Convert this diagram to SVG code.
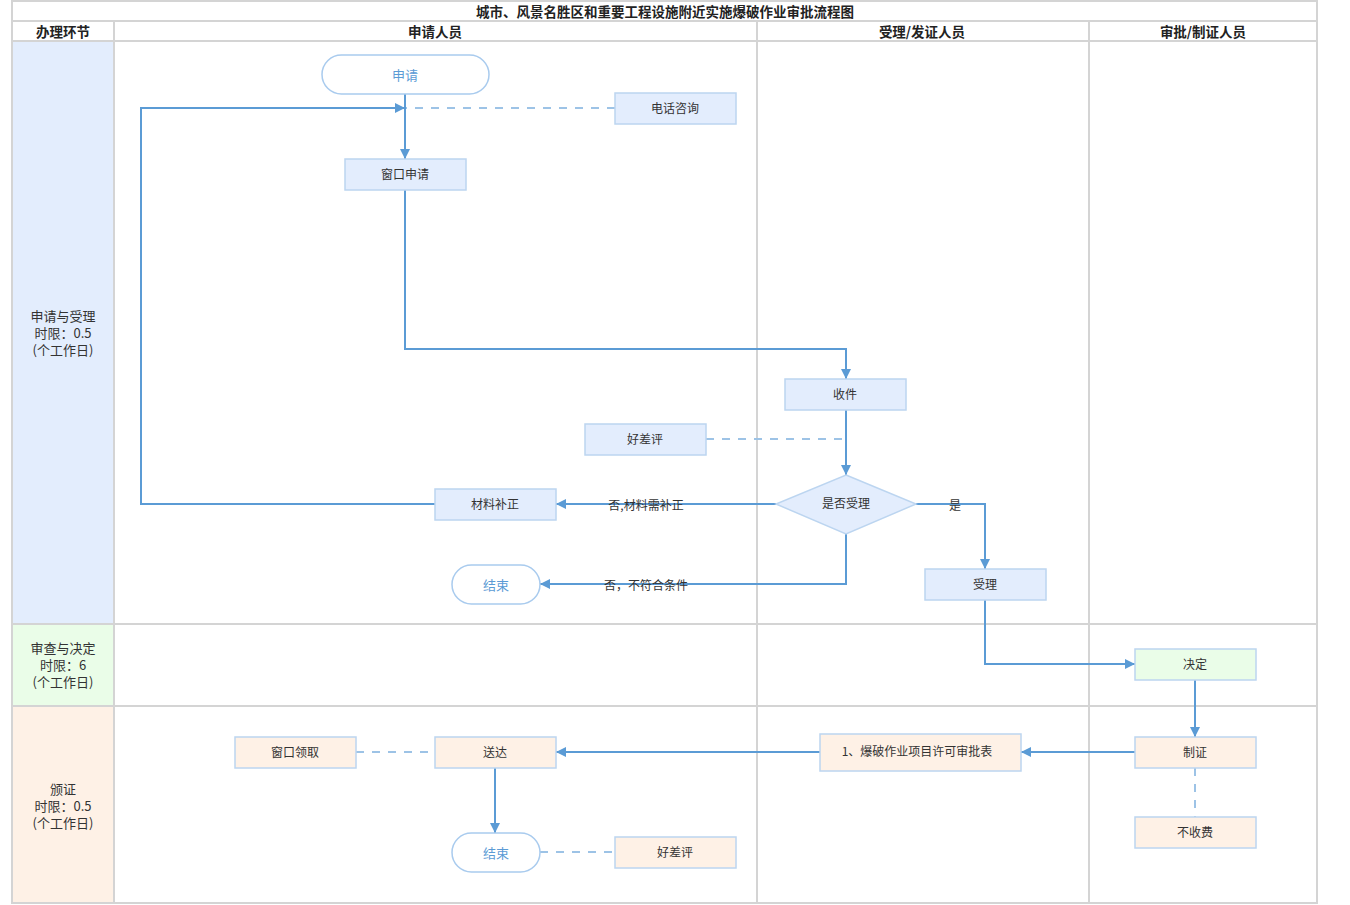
<svg xmlns="http://www.w3.org/2000/svg" width="1350" height="905" viewBox="0 0 1350 905">
<defs>
<marker id="arr" viewBox="0 0 10 10" refX="10" refY="5" markerWidth="10" markerHeight="10" markerUnits="userSpaceOnUse" orient="auto"><path d="M0,0 L10,5 L0,10 z" fill="#5b9bd5"/></marker>
<style>
text{font-family:"Noto Sans CJK SC","Noto Sans",sans-serif;font-size:12px;fill:#333;text-anchor:middle;dominant-baseline:central}
.hd{font-weight:bold;fill:#222;font-size:13.5px}
.lb{font-size:13px}
.grid{stroke:#d4d4d4;stroke-width:2;fill:none}
.blue{fill:#e3edfd;stroke:#bcd5f0;stroke-width:1.5}
.green{fill:#eafde8;stroke:#bcd5f0;stroke-width:1.5}
.peach{fill:#fef1e6;stroke:#bcd5f0;stroke-width:1.5}
.term{fill:#fff;stroke:#a9cbee;stroke-width:1.5}
.tt{fill:#5b9bd5;font-size:13px}
.ln{stroke:#5b9bd5;stroke-width:2;fill:none}
.ds{stroke:#9dc3e6;stroke-width:2;fill:none;stroke-dasharray:8,8}
</style>
</defs>
<rect width="1350" height="905" fill="#fff"/>
<g id="grid">
<rect x="12" y="42" width="102" height="582" fill="#e3edfd"/>
<rect x="12" y="624" width="102" height="82" fill="#eafde8"/>
<rect x="12" y="706" width="102" height="198" fill="#fef1e6"/>
<rect class="grid" x="12" y="1" width="1305" height="902"/>
<line class="grid" x1="12" y1="21" x2="1317" y2="21"/>
<line class="grid" x1="12" y1="41" x2="1317" y2="41"/>
<line class="grid" x1="12" y1="624" x2="1317" y2="624"/>
<line class="grid" x1="12" y1="706" x2="1317" y2="706"/>
<line class="grid" x1="114" y1="21" x2="114" y2="903"/>
<line class="grid" x1="757" y1="21" x2="757" y2="903"/>
<line class="grid" x1="1089" y1="21" x2="1089" y2="903"/>
<text class="hd" x="665" y="11">城市、风景名胜区和重要工程设施附近实施爆破作业审批流程图</text>
<text class="hd" x="63" y="30.5">办理环节</text>
<text class="hd" x="435" y="30.5">申请人员</text>
<text class="hd" x="922" y="30.5">受理/发证人员</text>
<text class="hd" x="1203" y="30.5">审批/制证人员</text>
<text class="lb" x="63" y="315">申请与受理</text>
<text class="lb" x="63" y="332">时限：0.5</text>
<text class="lb" x="63" y="349">(个工作日)</text>
<text class="lb" x="63" y="647">审查与决定</text>
<text class="lb" x="63" y="664">时限：6</text>
<text class="lb" x="63" y="681">(个工作日)</text>
<text class="lb" x="63" y="788">颁证</text>
<text class="lb" x="63" y="805">时限：0.5</text>
<text class="lb" x="63" y="822">(个工作日)</text>
</g>
<g id="connectors">
<line class="ds" x1="615" y1="108" x2="405" y2="108"/>
<line class="ds" x1="706" y1="439" x2="846" y2="439"/>
<line class="ds" x1="356" y1="752" x2="435" y2="752"/>
<line class="ds" x1="540" y1="852" x2="615" y2="852"/>
<line class="ds" x1="1195" y1="768" x2="1195" y2="817"/>
<path class="ln" d="M405,94 V159" marker-end="url(#arr)"/>
<path class="ln" d="M435,504 H141 V108 H405" marker-end="url(#arr)"/>
<path class="ln" d="M405,190 V349 H846 V379" marker-end="url(#arr)"/>
<path class="ln" d="M846,410 V475" marker-end="url(#arr)"/>
<path class="ln" d="M776,504 H556" marker-end="url(#arr)"/>
<path class="ln" d="M846,534 V584 H540" marker-end="url(#arr)"/>
<path class="ln" d="M916,504 H985 V569" marker-end="url(#arr)"/>
<path class="ln" d="M985,600 V664 H1135" marker-end="url(#arr)"/>
<path class="ln" d="M1195,680 V737" marker-end="url(#arr)"/>
<path class="ln" d="M1135,752 H1021" marker-end="url(#arr)"/>
<path class="ln" d="M820,752 H556" marker-end="url(#arr)"/>
<path class="ln" d="M495,768 V833" marker-end="url(#arr)"/>
<text x="646" y="504">否,材料需补正</text>
<text x="646" y="584">否，不符合条件</text>
<text x="955" y="504">是</text>
</g>
<g id="n-start"><rect class="term" x="322" y="55" width="167" height="39" rx="19.5"/><text class="tt" x="405" y="74">申请</text></g>
<g id="n-phone"><rect class="blue" x="615" y="93" width="121" height="31"/><text x="675" y="107">电话咨询</text></g>
<g id="n-window"><rect class="blue" x="345" y="159" width="121" height="31"/><text x="405" y="173">窗口申请</text></g>
<g id="n-receive"><rect class="blue" x="785" y="379" width="121" height="31"/><text x="845" y="393">收件</text></g>
<g id="n-eval1"><rect class="blue" x="585" y="424" width="121" height="31"/><text x="645" y="438">好差评</text></g>
<g id="n-decide"><polygon class="blue" points="846,475 916,504 846,534 776,504"/><text x="846" y="502">是否受理</text></g>
<g id="n-supp"><rect class="blue" x="435" y="489" width="121" height="31"/><text x="495" y="503">材料补正</text></g>
<g id="n-end1"><rect class="term" x="452" y="565" width="88" height="39" rx="19.5"/><text class="tt" x="496" y="584">结束</text></g>
<g id="n-accept"><rect class="blue" x="925" y="569" width="121" height="31"/><text x="985" y="583">受理</text></g>
<g id="n-decision"><rect class="green" x="1135" y="649" width="121" height="31"/><text x="1195" y="663">决定</text></g>
<g id="n-make"><rect class="peach" x="1135" y="737" width="121" height="31"/><text x="1195" y="751">制证</text></g>
<g id="n-form"><rect class="peach" x="820" y="734" width="201" height="37"/><text x="917" y="750">1、爆破作业项目许可审批表</text></g>
<g id="n-deliver"><rect class="peach" x="435" y="737" width="121" height="31"/><text x="495" y="751">送达</text></g>
<g id="n-pickup"><rect class="peach" x="235" y="737" width="121" height="31"/><text x="295" y="751">窗口领取</text></g>
<g id="n-end2"><rect class="term" x="452" y="833" width="88" height="39" rx="19.5"/><text class="tt" x="496" y="852">结束</text></g>
<g id="n-eval2"><rect class="peach" x="615" y="837" width="121" height="31"/><text x="675" y="851">好差评</text></g>
<g id="n-nofee"><rect class="peach" x="1135" y="817" width="121" height="31"/><text x="1195" y="831">不收费</text></g>
</svg>
